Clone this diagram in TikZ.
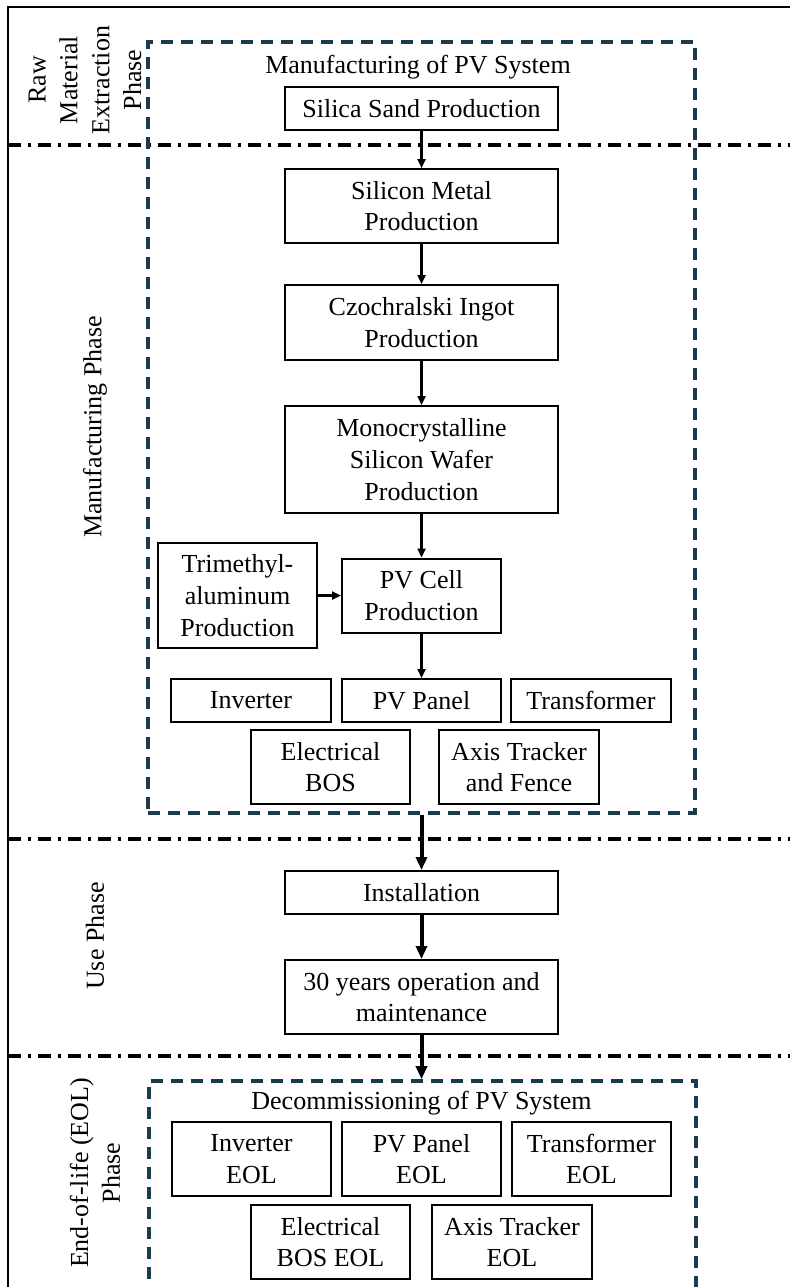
\documentclass[tikz,border=0pt]{standalone}
\usepackage{fontspec}
\setmainfont{Liberation Serif}
\usetikzlibrary{arrows.meta}
\definecolor{boxblue}{HTML}{1B3A4B}
\tikzset{
  stage/.style={draw, line width=1pt, align=center, inner sep=1pt, minimum width=136.5pt},
  part/.style={draw, line width=1pt, align=center, inner sep=1pt, minimum width=79.5pt},
  phasebox/.style={draw=boxblue, line width=1.8pt, dash pattern=on 6pt off 4pt},
  divider/.style={line width=1.8pt, dash pattern=on 6.5pt off 3.5pt on 1.5pt off 3.5pt},
  flow/.style={line width=1.3pt, -{Triangle[length=4.5pt,width=4pt]}},
  bigflow/.style={line width=2pt, -{Triangle[length=6.5pt,width=5.5pt]}},
  phase/.style={rotate=90, align=center},
}

\begin{document}
\begin{tikzpicture}[x=0.5pt, y=-0.5pt, font=\fontsize{13}{15.9}\selectfont]
\clip (0,0) rectangle (790,1287);
% frame and phase dividers
\draw[line width=1.2pt] (8,1295) -- (8,7) -- (795,7);
\foreach \y in {145,839,1056}
  \draw[divider] (8,\y) -- (790,\y);

% phase labels
\node[phase] (rawlab) at (85,80) {Raw\\Material\\Extraction\\Phase};
\node[phase] (mfglab) at (95,427) {Manufacturing Phase};
\node[phase] (uselab) at (95,936) {Use Phase};
\node[phase] (eollab) at (95,1173) {End-of-life (EOL)\\Phase};

% manufacturing of the system
\node[phasebox, minimum width=273.5pt, minimum height=385.5pt] (mfg) at (421.5,427.5) {};
\node (mfgtitle) at (418,67) {Manufacturing of PV System};
\node[stage, minimum height=21.5pt] (sand) at (421.5,108.5) {Silica Sand Production};
\node[stage, minimum height=37pt] (metal) at (421.5,206) {Silicon Metal\\Production};
\node[stage, minimum height=37.5pt] (ingot) at (421.5,322.5) {Czochralski Ingot\\Production};
\node[stage, minimum height=53.5pt] (wafer) at (421.5,459.5) {Monocrystalline\\Silicon Wafer\\Production};
\node[part, minimum height=52.5pt] (tma) at (237.5,595.5) {Trimethyl-\\aluminum\\Production};
\node[part, minimum height=37pt] (cell) at (421.5,595.5) {PV Cell\\Production};
\node[part, minimum width=80pt, minimum height=21.5pt] (inv) at (251,700.5) {Inverter};
\node[part, minimum height=21.5pt] (panel) at (421.5,700.5) {PV Panel};
\node[part, minimum width=80pt, minimum height=21.5pt] (trafo) at (591,700.5) {Transformer};
\node[part, minimum height=37pt] (bos) at (330.5,767) {Electrical\\BOS};
\node[part, minimum width=80pt, minimum height=37pt] (track) at (519,767) {Axis Tracker\\and Fence};

\draw[flow] (sand) -- (metal);
\draw[flow] (metal) -- (ingot);
\draw[flow] (ingot) -- (wafer);
\draw[flow] (wafer) -- (cell);
\draw[flow] (tma.east) -- (cell.west);
\draw[flow] (cell) -- (panel);

% use phase
\node[stage, minimum height=21.5pt] (install) at (421.5,892.5) {Installation};
\node[stage, minimum height=37pt] (operate) at (421.5,997) {30 years operation and\\maintenance};
\draw[bigflow] (mfg.south) -- (install.north);
\draw[bigflow] (install) -- (operate);

% decommissioning
\node[phasebox, minimum width=273.5pt, minimum height=110pt] (eol) at (422.5,1191) {};
\node (eoltitle) at (421.5,1103) {Decommissioning of PV System};
\node[part, minimum height=37pt] (inveol) at (251.5,1159) {Inverter\\EOL};
\node[part, minimum height=37pt] (paneleol) at (421.5,1159) {PV Panel\\EOL};
\node[part, minimum height=37pt] (trafoeol) at (591.5,1159) {Transformer\\EOL};
\node[part, minimum height=37pt] (boseol) at (330.5,1242) {Electrical\\BOS EOL};
\node[part, minimum width=80pt, minimum height=37pt] (trackeol) at (512,1242) {Axis Tracker\\EOL};
\draw[bigflow] (operate.south) -- (operate.south |- eol.north);
\end{tikzpicture}
\end{document}
